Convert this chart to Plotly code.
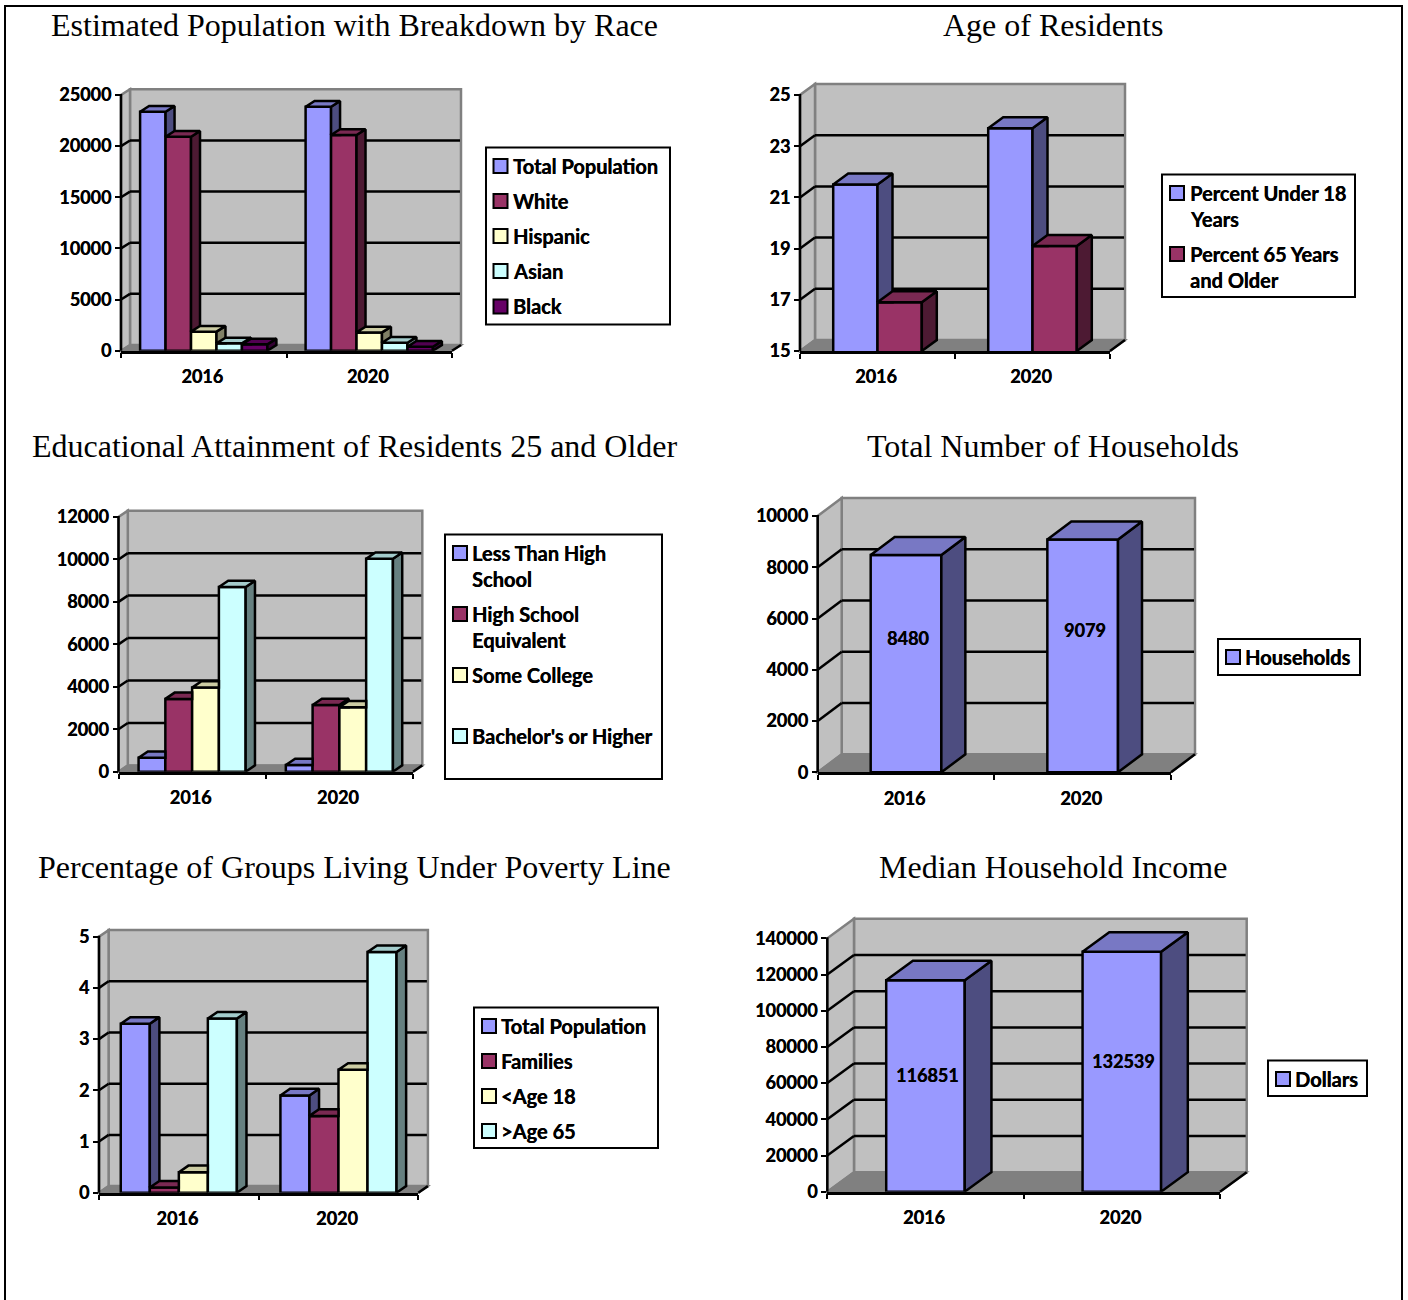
import plotly.graph_objects as go

# ---------- data ----------
YEARS = ["2016", "2020"]

POP_TOTAL = [23367, 23856]
POP_WHITE = [20920, 21090]
POP_HISPANIC = [1860, 1790]
POP_ASIAN = [720, 780]
POP_BLACK = [620, 390]
POP_TICKS = [0, 5000, 10000, 15000, 20000, 25000]

AGE_UNDER_18 = [21.5, 23.7]
AGE_65_PLUS = [16.9, 19.1]
AGE_TICKS = [15, 17, 19, 21, 23, 25]

EDU_LESS_HS = [660, 316]
EDU_HS = [3430, 3146]
EDU_SOME_COLLEGE = [3962, 3037]
EDU_BACHELORS = [8698, 10033]
EDU_TICKS = [0, 2000, 4000, 6000, 8000, 10000, 12000]

POV_TOTAL = [3.3, 1.9]
POV_FAMILIES = [0.1, 1.5]
POV_UNDER_18 = [0.4, 2.4]
POV_OVER_65 = [3.4, 4.7]
POV_TICKS = [0, 1, 2, 3, 4, 5]

HOUSEHOLDS = [8480, 9079]
HOUSEHOLD_TICKS = [0, 2000, 4000, 6000, 8000, 10000]

INCOME = [116851, 132539]
INCOME_TICKS = [0, 20000, 40000, 60000, 80000, 100000, 120000, 140000]

# ---------- palette: front, top and side face of each series colour ----------
BLUE = ("#9999FF", "#7878C4", "#4D4D80")
WINE = ("#993366", "#7A2952", "#4D1A33")
CREAM = ("#FFFFCC", "#CCCCA3", "#808066")
AQUA = ("#CCFFFF", "#A3CCCC", "#668080")
PLUM = ("#660066", "#520052", "#330033")

W, H = 1408, 1300
STROKE = 2.5
HEAVY = "0.35px 0 0 black"
LABEL_FONT = dict(family="Lato", size=18, color="black", weight=700, shadow=HEAVY)
LEGEND_FONT = dict(family="Lato", size=20, color="black", weight=700, shadow=HEAVY)
TITLE_FONT = dict(family="Liberation Serif", size=32, color="black")

# Each panel: front plane box in pixels, wall depth, legend box and rows
PANELS = [
    dict(title="Estimated Population with Breakdown by Race", title_xy=(354.5, 25),
         box=(121, 452, 350.7, 95), depth=(9, 5.7), ticks=POP_TICKS,
         series=[("Total Population", POP_TOTAL, BLUE), ("White", POP_WHITE, WINE),
                 ("Hispanic", POP_HISPANIC, CREAM), ("Asian", POP_ASIAN, AQUA),
                 ("Black", POP_BLACK, PLUM)],
         legend=(486, 670, 147.5, 324.5), swatch_x=493.5, text_x=511,
         rows=[(166, 0), (201, 1), (236, 2), (271, 3), (306.5, 4)]),
    dict(title="Age of Residents", title_xy=(1052.5, 25),
         box=(800, 1110, 351, 95), depth=(15, 11), ticks=AGE_TICKS,
         series=[("Percent Under 18<br>Years", AGE_UNDER_18, BLUE),
                 ("Percent 65 Years<br>and Older", AGE_65_PLUS, WINE)],
         legend=(1162, 1355, 174.5, 297), swatch_x=1170, text_x=1187.5,
         rows=[(193, 0), (254, 1)]),
    dict(title="Educational Attainment of Residents 25 and Older", title_xy=(354.5, 446),
         box=(118.5, 413, 771.7, 517), depth=(9.3, 6.3), ticks=EDU_TICKS,
         series=[("Less Than High<br>School", EDU_LESS_HS, BLUE),
                 ("High School<br>Equivalent", EDU_HS, WINE),
                 ("Some College", EDU_SOME_COLLEGE, CREAM),
                 ("Bachelor's or Higher", EDU_BACHELORS, AQUA)],
         legend=(445, 662, 534.5, 779), swatch_x=453, text_x=470,
         rows=[(553, 0), (614, 1), (675, 2), (736, 3)]),
    dict(title="Total Number of Households", title_xy=(1053, 446),
         box=(817.7, 1171, 772.3, 516), depth=(24, 18), ticks=HOUSEHOLD_TICKS,
         series=[("Households", HOUSEHOLDS, BLUE)],
         legend=(1218, 1360, 639, 675), swatch_x=1226, text_x=1243,
         rows=[(657, 0)], value_shift=26),
    dict(title="Percentage of Groups Living Under Poverty Line", title_xy=(354, 867),
         box=(99, 418.3, 1192.7, 936.7), depth=(9.6, 6.6), ticks=POV_TICKS,
         series=[("Total Population", POV_TOTAL, BLUE), ("Families", POV_FAMILIES, WINE),
                 ("<Age 18", POV_UNDER_18, CREAM), (">Age 65", POV_OVER_65, AQUA)],
         legend=(474, 658, 1007.5, 1148), swatch_x=482, text_x=499,
         rows=[(1026, 0), (1061, 1), (1096, 2), (1131, 3)]),
    dict(title="Median Household Income", title_xy=(1053, 867),
         box=(827.3, 1220, 1191.7, 938.3), depth=(26.7, 19.5), ticks=INCOME_TICKS,
         series=[("Dollars", INCOME, BLUE)],
         legend=(1268, 1367, 1060.5, 1096), swatch_x=1276, text_x=1293,
         rows=[(1079, 0)], value_shift=11),
]

fig = go.Figure()
shapes, annotations, axes = [], [], {}


def px_x(v):
    return v / W


def px_y(v):
    return 1 - v / H


def paper_poly(points, fill=None, line=None, width=2, layer="below"):
    path = "M" + "L".join(f"{px_x(x):.5f},{px_y(y):.5f}" for x, y in points) + "Z"
    shapes.append(dict(type="path", xref="paper", yref="paper", path=path, layer=layer,
                       fillcolor=fill or "rgba(0,0,0,0)",
                       line=dict(color=line or "rgba(0,0,0,0)", width=width)))


def paper_line(x0, y0, x1, y1, color="black", width=2, layer="below"):
    shapes.append(dict(type="line", xref="paper", yref="paper", layer=layer,
                       x0=px_x(x0), y0=px_y(y0), x1=px_x(x1), y1=px_y(y1),
                       line=dict(color=color, width=width)))


def polygon(points, fill, xa, ya):
    xs = [p[0] for p in points] + [points[0][0]]
    ys = [p[1] for p in points] + [points[0][1]]
    fig.add_trace(go.Scatter(x=xs, y=ys, xaxis=xa, yaxis=ya, mode="lines", fill="toself",
                             fillcolor=fill, line=dict(color="black", width=STROKE),
                             hoverinfo="skip", showlegend=False))


def draw_walls(p):
    x0, x1, y0, yt = p["box"]
    dx, dy = p["depth"]
    lo, hi = p["ticks"][0], p["ticks"][-1]
    gray = "#808080"
    paper_poly([(x0 + dx, y0 - dy), (x1 + dx, y0 - dy), (x1 + dx, yt - dy), (x0 + dx, yt - dy)],
               "#C0C0C0", gray, width=STROKE)
    paper_poly([(x0, y0), (x0 + dx, y0 - dy), (x0 + dx, yt - dy), (x0, yt)], "#C0C0C0", gray, width=STROKE)
    paper_poly([(x0, y0), (x1, y0), (x1 + dx, y0 - dy), (x0 + dx, y0 - dy)], gray, gray)
    for t in p["ticks"][1:-1]:
        yy = y0 - (t - lo) / (hi - lo) * (y0 - yt)
        paper_line(x0, yy, x0 + dx, yy - dy, width=STROKE)
        paper_line(x0 + dx, yy - dy, x1 + dx - 1, yy - dy, width=STROKE)
    paper_line(x1, y0, x1 + dx, y0 - dy, width=STROKE)
    # the value axis stops at its top tick although the plot area runs on to the wall top
    paper_line(x0, y0, x0, yt - 1, width=STROKE, layer="above")


def draw_bars(p, xa, ya):
    x0, x1, y0, yt = p["box"]
    lo, hi = p["ticks"][0], p["ticks"][-1]
    ddx = p["depth"][0] / ((x1 - x0) / len(YEARS))
    ddy = p["depth"][1] * (hi - lo) / (y0 - yt)
    n = len(p["series"])
    bw = 1 / (n + 1.5)
    for s, (name, values, (front, top, side)) in enumerate(p["series"]):
        lefts = [g + 0.75 * bw + s * bw for g in range(len(YEARS))]
        fig.add_trace(go.Bar(x=[l + bw / 2 for l in lefts], y=values, width=bw, xaxis=xa, yaxis=ya,
                             marker=dict(color=front, line=dict(color="black", width=STROKE)),
                             name=name.replace("<br>", " "), showlegend=False,
                             customdata=YEARS, hovertemplate="%{customdata}: %{y}<extra></extra>"))
        for g, left in enumerate(lefts):
            v = values[g]
            right = left + bw
            nxt = p["series"][s + 1][1][g] if s + 1 < n else None
            # side face, trimmed where the neighbouring bar stands in front of it
            if nxt is None:
                polygon([(right, lo), (right + ddx, lo + ddy), (right + ddx, v + ddy), (right, v)],
                        side, xa, ya)
            elif nxt < v:
                polygon([(right, nxt), (right + ddx, max(nxt, lo + ddy)), (right + ddx, v + ddy), (right, v)],
                        side, xa, ya)
            # top face, trimmed the same way
            if nxt is None or nxt <= v:
                pts = [(left, v), (right, v), (right + ddx, v + ddy), (left + ddx, v + ddy)]
            elif nxt >= v + ddy:
                pts = [(left, v), (right, v), (right, v + ddy), (left + ddx, v + ddy)]
            else:
                cut = right + (nxt - v) / ddy * ddx
                pts = [(left, v), (right, v), (right, nxt), (cut, nxt),
                       (right + ddx, v + ddy), (left + ddx, v + ddy)]
            polygon(pts, top, xa, ya)
            if "value_shift" in p:
                annotations.append(dict(x=left + bw / 2, y=v / 2, xref=xa, yref=ya, text=str(v),
                                        showarrow=False, yshift=p["value_shift"], xshift=2,
                                        font=LABEL_FONT))


def draw_axes(p, i):
    x0, x1, y0, yt = p["box"]
    dy = p["depth"][1]
    lo, hi = p["ticks"][0], p["ticks"][-1]
    group_px = (x1 - x0) / len(YEARS)
    common = dict(showgrid=False, zeroline=False, fixedrange=True, tickfont=LABEL_FONT)
    suffix = "" if i == 1 else str(i)
    axes[f"xaxis{suffix}"] = dict(
        common, showline=True, linecolor="black", linewidth=STROKE,
        domain=[px_x(x0), px_x(x1)], range=[0, len(YEARS)], anchor=f"y{suffix}",
        tickmode="array", tickvals=[g + 0.5 - 1.5 / group_px for g in range(len(YEARS))], ticktext=YEARS,
        ticks="outside", ticklen=8, tickcolor="rgba(0,0,0,0)",
        minor=dict(tickmode="array", tickvals=list(range(len(YEARS) + 1)), ticks="outside",
                   ticklen=5, tickwidth=2, tickcolor="black"))
    axes[f"yaxis{suffix}"] = dict(
        common, showline=False,
        domain=[px_y(y0), px_y(yt - dy)],
        range=[lo, hi + dy * (hi - lo) / (y0 - yt)], anchor=f"x{suffix}",
        tickmode="array", tickvals=p["ticks"], ticktext=[str(t) for t in p["ticks"]],
        ticks="outside", ticklen=5, tickwidth=2, tickcolor="black")


def draw_legend(p):
    lx0, lx1, ly0, ly1 = p["legend"]
    paper_poly([(lx0, ly0), (lx1, ly0), (lx1, ly1), (lx0, ly1)], "white", "black", layer="above")
    for row_y, idx in p["rows"]:
        name, _, colors = p["series"][idx]
        sx = p["swatch_x"]
        paper_poly([(sx, row_y - 7), (sx + 14, row_y - 7), (sx + 14, row_y + 7), (sx, row_y + 7)],
                   colors[0], "black", layer="above")
        for k, part in enumerate(name.split("<br>")):
            annotations.append(dict(x=px_x(p["text_x"]), y=px_y(row_y + k * 26), xref="paper", yref="paper",
                                    text=part.replace("<", "&lt;").replace(">", "&gt;"),
                                    showarrow=False, xanchor="left", yanchor="middle", font=LEGEND_FONT))


for i, panel in enumerate(PANELS, start=1):
    suffix = "" if i == 1 else str(i)
    draw_walls(panel)
    draw_axes(panel, i)
    draw_bars(panel, f"x{suffix}", f"y{suffix}")
    draw_legend(panel)
    annotations.append(dict(x=px_x(panel["title_xy"][0]), y=px_y(panel["title_xy"][1]),
                            xref="paper", yref="paper", text=panel["title"], showarrow=False,
                            xanchor="center", yanchor="middle", font=TITLE_FONT))

# Page frame, open along the bottom edge
paper_line(5, 6, 5, 1300, layer="above")
paper_line(4, 6, 1403, 6, layer="above")
paper_line(1402, 6, 1402, 1300, layer="above")

fig.update_layout(width=W, height=H, margin=dict(l=0, r=0, t=0, b=0, autoexpand=False),
                  paper_bgcolor="white", plot_bgcolor="rgba(0,0,0,0)", barmode="overlay",
                  showlegend=False, shapes=shapes, annotations=annotations, **axes)
fig.write_html("out.html", config=dict(displayModeBar=False))
